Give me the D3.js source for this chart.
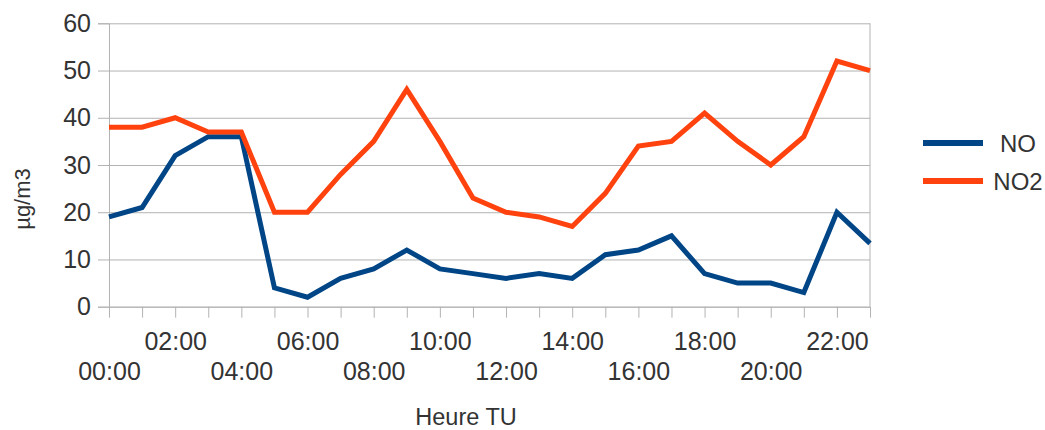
<!DOCTYPE html>
<html>
<head>
<meta charset="utf-8">
<script src="https://cdn.jsdelivr.net/npm/d3@7"></script>
<style>
  html, body { margin: 0; padding: 0; background: #fff; }
  svg { display: block; font-family: "Liberation Sans", Arial, sans-serif; }
</style>
</head>
<body>
<svg id="chart" width="1045" height="430"></svg>
<script>
// Hourly concentrations (µg/m3), Heure TU
const hours = ["00:00","01:00","02:00","03:00","04:00","05:00","06:00","07:00",
               "08:00","09:00","10:00","11:00","12:00","13:00","14:00","15:00",
               "16:00","17:00","18:00","19:00","20:00","21:00","22:00","23:00"];
const no  = [19, 21, 32, 36, 36, 4, 2, 6, 8, 12, 8, 7, 6, 7, 6, 11, 12, 15, 7, 5, 5, 3, 20, 13.4];
const no2 = [38, 38, 40, 37, 37, 20, 20, 28, 35, 46, 35, 23, 20, 19, 17, 24, 34, 35, 41, 35, 30, 36, 52, 50];
const yTicks = [0, 10, 20, 30, 40, 50, 60];
const seriesNames = ["NO", "NO2"];
const seriesColors = ["#004586", "#ff420e"];

const svg = d3.select("#chart");
const plot = { left: 109, right: 870, top: 23.3, bottom: 306.7 };
const textColor = "#333333";
const gridColor = "#b3b3b3";

const x = d3.scalePoint().domain(hours).range([plot.left, plot.right]);
const y = d3.scaleLinear().domain([0, 60]).range([plot.bottom, plot.top]);

// horizontal gridlines + left ticks
const yAxis = svg.append("g")
  .attr("transform", `translate(${plot.left},0)`)
  .call(d3.axisLeft(y).tickValues(yTicks).tickSize(11).tickPadding(7));
yAxis.select(".domain").attr("stroke", gridColor);
yAxis.selectAll(".tick line").attr("stroke", gridColor);
yAxis.selectAll(".tick").append("line")
  .attr("x1", 0).attr("x2", plot.right - plot.left)
  .attr("stroke", gridColor);
yAxis.selectAll(".tick text")
  .attr("fill", textColor)
  .attr("font-size", 25)
  .attr("font-family", "Liberation Sans, Arial, sans-serif");

// right border of the plot area
svg.append("line")
  .attr("x1", plot.right).attr("x2", plot.right)
  .attr("y1", plot.top).attr("y2", plot.bottom)
  .attr("stroke", gridColor);

// bottom axis with staggered labels every two hours
const xAxis = svg.append("g")
  .attr("transform", `translate(0,${plot.bottom})`)
  .call(d3.axisBottom(x).tickSize(11).tickFormat(""));
xAxis.select(".domain").attr("stroke", gridColor).attr("d", `M${plot.left},0.5H${plot.right}`);
xAxis.selectAll(".tick line").attr("stroke", gridColor);
xAxis.selectAll(".tick").each(function(d, i) {
  if (i % 2 !== 0) return;
  d3.select(this).append("text")
    .attr("text-anchor", "middle")
    .attr("y", i % 4 === 2 ? 43.3 : 73.3)
    .attr("fill", textColor)
    .attr("font-size", 25)
    .attr("font-family", "Liberation Sans, Arial, sans-serif")
    .text(d);
});

// series lines
const line = d3.line()
  .x((d, i) => x(hours[i]))
  .y(d => y(d));
[no, no2].forEach((vals, k) => {
  svg.append("path")
    .datum(vals)
    .attr("fill", "none")
    .attr("stroke", seriesColors[k])
    .attr("stroke-width", 5)
    .attr("stroke-linejoin", "miter")
    .attr("d", line);
});

// axis titles
svg.append("text")
  .attr("x", 466).attr("y", 425)
  .attr("text-anchor", "middle")
  .attr("fill", textColor)
  .attr("font-size", 23.5)
  .text("Heure TU");

svg.append("text")
  .attr("transform", "translate(30,199) rotate(-90)")
  .attr("text-anchor", "middle")
  .attr("fill", textColor)
  .attr("font-size", 22)
  .text("µg/m3");

// legend
const legend = svg.append("g");
seriesNames.forEach((name, k) => {
  const ly = 143 + k * 38;
  legend.append("line")
    .attr("x1", 923).attr("x2", 983)
    .attr("y1", ly).attr("y2", ly)
    .attr("stroke", seriesColors[k])
    .attr("stroke-width", 6);
  legend.append("text")
    .attr("x", 1018).attr("y", ly + 9)
    .attr("text-anchor", "middle")
    .attr("fill", textColor)
    .attr("font-size", 24)
    .text(name);
});
</script>
</body>
</html>
